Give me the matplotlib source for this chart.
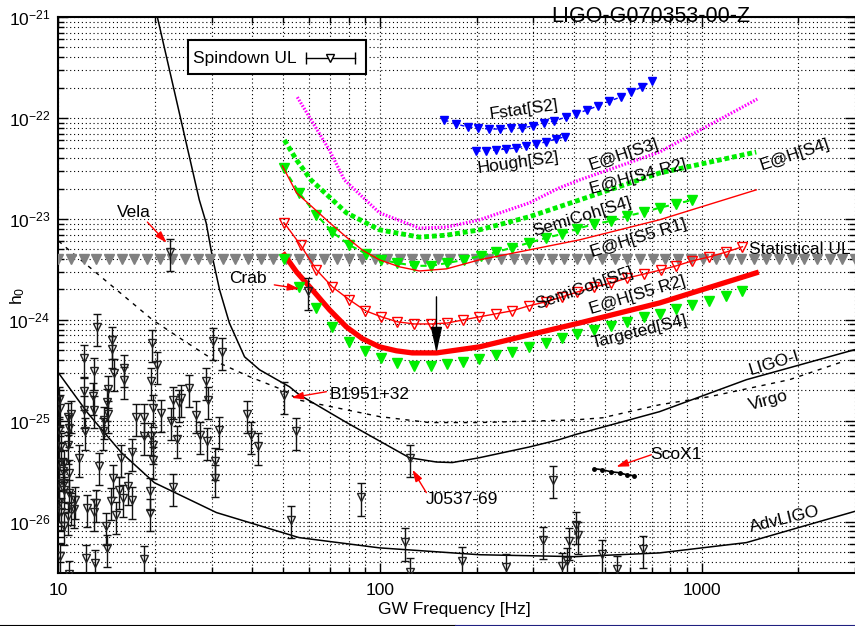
import numpy as np
import matplotlib
matplotlib.use('Agg')
import matplotlib.pyplot as plt
import matplotlib.ticker as mticker
from matplotlib.lines import Line2D
from matplotlib.patches import Rectangle

plt.rcParams['font.family'] = ['Liberation Sans', 'DejaVu Sans']
plt.rcParams['font.size'] = 12.5
plt.rcParams['mathtext.fontset'] = 'custom'
plt.rcParams['mathtext.rm'] = 'Liberation Sans'
plt.rcParams['mathtext.it'] = 'Liberation Sans:italic'
plt.rcParams['mathtext.bf'] = 'Liberation Sans:bold'

# --- detector sensitivity curves (GW frequency [Hz], h0) ---
ligo_f = [19.2, 20.3, 27.4, 28.8, 30.1, 31.7, 34.0, 37.9, 42.2, 52.3, 56.1, 78.7, 123.4,
          149.7, 167.8, 203.6, 291.6, 361, 405.6, 740, 1378, 2985]
ligo_h = [1.85e-21, 1e-21, 1.55e-23, 9.1e-24, 4.2e-24, 1.98e-24, 9.3e-25, 4.3e-25, 3.2e-25,
          2.17e-25, 1.81e-25, 9.6e-26, 4.3e-26, 3.9e-26, 3.85e-26, 4.3e-26, 5.5e-26, 6.5e-26,
          7.3e-26, 1.23e-25, 2.55e-25, 5.05e-25]

virgo_f = [10, 10.59, 19.6, 24.3, 31.0, 39.3, 49.7, 56.1, 99.5, 142, 204, 405, 492, 740,
           1058, 1875, 2741]
virgo_h = [6.05e-24, 5.16e-24, 1.0e-24, 6.34e-25, 3.84e-25, 2.73e-25, 2.03e-25, 1.6e-25,
           1.1e-25, 9.6e-26, 9.6e-26, 1.02e-25, 1.07e-25, 1.44e-25, 1.73e-25, 2.55e-25, 3.84e-25]

adv_f = [10, 12.31, 15.7, 19.88, 31, 56, 99.5, 204, 405, 740, 1378, 2985]
adv_h = [2.98e-25, 1.2e-25, 4.82e-26, 2.43e-26, 1.23e-26, 6.95e-27, 5.5e-27, 4.7e-27,
         4.5e-27, 4.9e-27, 6.2e-27, 1.26e-26]

# --- search upper limits ---
ehs3_f = [55.3, 69.6, 77.5, 99.6, 132.6, 161, 204, 291, 361, 417, 740, 1490]
ehs3_h = [1.61e-22, 4.8e-23, 2.43e-23, 1.15e-23, 8.1e-24, 8.3e-24, 9.8e-24, 1.44e-23,
          2.03e-23, 2.43e-23, 4.6e-23, 1.54e-22]

ehs4_f = [50.4, 55, 61, 78.6, 99.6, 132.6, 161, 204, 291, 417, 740, 1479]
ehs4_h = [6.05e-23, 3.84e-23, 2.43e-23, 1.15e-23, 7.8e-24, 6.6e-24, 6.9e-24, 7.8e-24,
          1.05e-23, 1.54e-23, 2.85e-23, 4.6e-23]

ehs5r1_f = [49.7, 55, 61.6, 69.6, 78.6, 88.2, 99.6, 115, 132.6, 161, 203.6, 291, 417, 740, 1479]
ehs5r1_h = [3.35e-23, 1.81e-23, 1.31e-23, 9.2e-24, 6.6e-24, 4.9e-24, 3.93e-24, 3.35e-24,
            3.05e-24, 3.2e-24, 3.93e-24, 4.93e-24, 6.2e-24, 9.8e-24, 1.94e-23]

ehs5r2_f = [50.4, 55, 61.6, 69.6, 78.6, 88.2, 99.6, 112.5, 126, 150, 204, 291, 417, 740, 1479]
ehs5r2_h = [4.4e-24, 2.98e-24, 1.98e-24, 1.26e-24, 8.5e-25, 6.5e-25, 5.4e-25, 4.93e-25,
            4.7e-25, 4.7e-25, 5.4e-25, 7.1e-25, 9.3e-25, 1.47e-24, 2.92e-24]

semis4_f = [50.1, 56.1, 63.4, 71.1, 80.3, 90.7, 101, 113.3, 127.9, 144.5, 162, 182.4, 206,
            230, 258, 291, 329, 369, 411, 464, 524, 588, 664, 740, 835, 936]
semis4_h = [3.2e-23, 1.81e-23, 1.1e-23, 7.4e-24, 5.5e-24, 4.5e-24, 3.93e-24, 3.66e-24,
            3.43e-24, 3.43e-24, 3.66e-24, 3.93e-24, 4.3e-24, 4.7e-24, 5.2e-24, 5.8e-24,
            6.5e-24, 7.1e-24, 8.0e-24, 8.9e-24, 9.55e-24, 1.07e-23, 1.17e-23, 1.29e-23,
            1.41e-23, 1.54e-23]

semis5_f = [50.4, 56.6, 63.4, 71.1, 80.3, 90.1, 101, 113.3, 127.9, 144.5, 162, 181.7, 203.7,
            230, 258, 291, 329, 369, 411, 464, 524, 588, 664, 750, 835, 936, 1057, 1194, 1340]
semis5_h = [9.1e-24, 5.5e-24, 3.13e-24, 2.12e-24, 1.58e-24, 1.23e-24, 1.07e-24, 9.55e-25,
            9.1e-25, 9.1e-25, 9.3e-25, 1.0e-24, 1.07e-24, 1.15e-24, 1.23e-24, 1.38e-24,
            1.51e-24, 1.69e-24, 1.89e-24, 2.12e-24, 2.32e-24, 2.6e-24, 2.85e-24, 3.13e-24,
            3.43e-24, 3.84e-24, 4.2e-24, 4.7e-24, 5.3e-24]

targ_f = [50.4, 56.1, 63.4, 71.1, 80.3, 90.1, 101, 113.3, 127.9, 144.5, 162, 181.7, 203.7,
          230, 258, 291, 329, 369, 411, 464, 524, 588, 664, 740, 835, 936, 1057, 1194, 1340]
targ_h = [4.0e-24, 2.12e-24, 1.31e-24, 8.5e-25, 6.05e-25, 4.93e-25, 4.2e-25, 3.75e-25,
          3.5e-25, 3.5e-25, 3.67e-25, 3.84e-25, 4.1e-25, 4.5e-25, 4.8e-25, 5.4e-25, 5.9e-25,
          6.6e-25, 7.3e-25, 8.0e-25, 8.7e-25, 9.55e-25, 1.07e-24, 1.15e-24, 1.29e-24,
          1.41e-24, 1.54e-24, 1.73e-24, 1.94e-24]

fstat_f = [158.6, 172.8, 187.6, 201.6, 218.4, 236.6, 254.6, 276, 299, 324, 348.6, 377.6,
           406.6, 440.5, 477, 516.6, 559.6, 602, 652, 701]
fstat_h = [9.55e-23, 8.7e-23, 8.15e-23, 7.96e-23, 7.78e-23, 7.78e-23, 7.96e-23, 7.96e-23,
           8.33e-23, 8.9e-23, 9.33e-23, 1.02e-22, 1.1e-22, 1.2e-22, 1.32e-22, 1.47e-22,
           1.61e-22, 1.81e-22, 2.03e-22, 2.32e-22]

hough_f = [199.4, 214, 229.6, 246.6, 264.8, 284.3, 305.3, 327.8, 352, 376]
hough_h = [4.7e-23, 4.7e-23, 4.82e-23, 4.93e-23, 5.05e-23, 5.28e-23, 5.53e-23, 5.78e-23,
           6.2e-23, 6.5e-23]

stat_ul_h = 4.0e-24

scox1_f = [464, 491, 523, 556, 588, 618]
scox1_h = [3.35e-26, 3.27e-26, 3.12e-26, 3.05e-26, 2.9e-26, 2.85e-26]

# --- known pulsars: spindown upper limits ---
spin_f = [13.16, 14.65, 14.65, 11.98, 12.94, 16.04, 15.96, 14.93, 19.53, 11.98, 12.79, 14.23,
          14.13, 12.94, 12.04, 10.14, 10.9, 13.9, 14.23, 13.73, 12.11, 10.07, 10.82, 17.44,
          18.51, 18.51, 19.42, 16.9, 15.67, 11.62, 10.74, 10.2, 10.44, 10.82, 13.41, 14.75,
          10.07, 10.39, 15.47, 16.43, 16.9, 19.32, 15.85, 14.58, 13.1, 12.28, 11.27, 11.21,
          10.07, 10.2, 10.69, 12.94, 15.11, 14.07, 10.44, 14.17, 10.14, 12.19, 13.0, 18.51,
          10.82, 19.42, 19.65, 20.22, 20.86, 22.78, 24.07, 23.66, 25.55, 28.8, 29.12, 30.34,
          32.28, 26.8, 22.4, 23.33, 27.64, 29.0, 31.5, 30.78, 30.78, 38.62, 39.74, 41.66,
          54.83, 22.66, 52.9, 19.65, 19.65, 19.19, 10.07, 10.69, 10.07, 10.31, 10.82, 10.44,
          10.95, 22.3, 59.5, 50.4, 124.3, 87.5, 120, 124.3, 180.4, 247, 346, 320.6, 386, 407,
          412, 367, 380.7, 490.6, 547, 656]
spin_h = [8.47e-25, 6.34e-25, 5.13e-25, 4.18e-25, 3.13e-25, 3.33e-25, 2.55e-25, 3.0e-25,
          5.88e-25, 1.95e-25, 1.74e-25, 2.06e-25, 1.52e-25, 1.29e-25, 1.29e-25, 1.34e-25,
          1.17e-25, 1.02e-25, 1.17e-25, 7.83e-26, 7.83e-26, 8.15e-26, 8.47e-26, 1.09e-25,
          1.09e-25, 7.0e-26, 7.0e-26, 4.85e-26, 4.27e-26, 4.27e-26, 5.78e-26, 5.57e-26,
          3.81e-26, 3.03e-26, 3.53e-26, 2.71e-26, 2.42e-26, 2.07e-26, 2.07e-26, 2.24e-26,
          1.65e-26, 2.0e-26, 1.72e-26, 1.59e-26, 1.53e-26, 1.37e-26, 1.65e-26, 1.32e-26,
          1.53e-26, 1.26e-26, 1.13e-26, 1.24e-26, 1.17e-26, 8.98e-27, 8.98e-27, 5.5e-27,
          4.53e-27, 4.37e-27, 3.9e-27, 4.27e-27, 3.05e-27, 2.45e-25, 1.34e-25, 3.58e-25,
          1.19e-25, 1.61e-25, 1.68e-25, 1.5e-25, 2.11e-25, 2.45e-25, 1.61e-25, 6.1e-25,
          4.85e-25, 1.15e-25, 9.85e-26, 6.59e-26, 7.27e-26, 6.24e-26, 8.15e-26, 3.95e-26,
          2.71e-26, 1.17e-25, 7.27e-26, 5.57e-26, 7.83e-26, 2.21e-26, 1.05e-26, 5.78e-26,
          4.11e-26, 1.23e-26, 1.61e-25, 1.1e-25, 3.81e-26, 3.15e-26, 1.92e-26, 2.42e-26,
          1.42e-26, 4.71e-24, 1.94e-24, 1.81e-25, 4.3e-26, 1.77e-26, 6.34e-27, 3.2e-27,
          4.11e-27, 3.58e-27, 2.61e-26, 6.53e-27, 6.38e-27, 9.33e-27, 7.43e-27, 3.6e-27,
          4.05e-27, 4.82e-27, 3.4e-27, 5.4e-27]
spin_err = 0.35  # fractional uncertainty on the spindown limit

GREEN = '#00ee00'
RED = '#ff0000'
BLUE = '#0000ff'
MAGENTA = '#ff00ff'
GREY = '#808080'

fig = plt.figure(figsize=(8.55, 6.26), dpi=100)
ax = fig.add_axes([0.0684, 0.0847, 0.9316, 0.888])
ax.set_xscale('log')
ax.set_yscale('log')

# detector curves
ax.plot(ligo_f, ligo_h, color='black', lw=1.1, zorder=3)
ax.plot(virgo_f, virgo_h, color='black', lw=1.0, ls=(0, (3, 4)), zorder=3)
ax.plot(adv_f, adv_h, color='black', lw=1.1, zorder=3)

# statistical upper limit row
stat_f = np.geomspace(10, 3000, 64)
ax.plot(stat_f, np.full_like(stat_f, stat_ul_h), ls='none', marker='v', ms=7,
        color=GREY, mec=GREY, zorder=4)

# Einstein@Home and semicoherent searches
ax.plot(ehs3_f, ehs3_h, color=MAGENTA, lw=2.3, ls=(0, (0.5, 0.5)), zorder=4)
ax.plot(ehs4_f, ehs4_h, color=GREEN, lw=3.5, ls=(0, (1, 0.6)), zorder=4)
ax.plot(semis4_f, semis4_h, color=GREEN, lw=1.5, ls=(0, (3, 2)), marker='v', ms=6.5,
        mfc=GREEN, mec=GREEN, zorder=5)
ax.plot(ehs5r1_f, ehs5r1_h, color=RED, lw=1.0, zorder=5)
ax.plot(semis5_f, semis5_h, color=RED, lw=1.0, marker='v', ms=6.5, mfc='none', mec=RED,
        mew=1.0, zorder=5)
ax.plot(ehs5r2_f, ehs5r2_h, color=RED, lw=3.8, zorder=5)
ax.plot(targ_f, targ_h, ls='none', marker='v', ms=6.5, color=GREEN, zorder=5)

# S2 all-sky searches
ax.plot(fstat_f, fstat_h, color=BLUE, lw=1.0, ls=(0, (3, 3)), marker='v', ms=6, zorder=5)
ax.plot(hough_f, hough_h, color=BLUE, lw=1.0, ls=(0, (3, 3)), marker='v', ms=6, zorder=5)

# ScoX1
ax.plot(scox1_f, scox1_h, color='black', lw=1.2, marker='o', ms=2.5, zorder=5)

# spindown limits
spin_f = np.array(spin_f)
spin_h = np.array(spin_h)
ax.errorbar(spin_f, spin_h, yerr=spin_err * spin_h, fmt='v', ms=5.5, mfc='none', mec='#222222',
            mew=1.0, ecolor='#111111', elinewidth=1.0, capsize=3, capthick=1.0, zorder=6)

# arrow marking the best upper limit
ax.annotate('', xy=(149.8, 4.7e-25), xytext=(149.8, 1.69e-24),
            arrowprops=dict(arrowstyle='-|>,head_length=1.6,head_width=0.35', color='black',
                            lw=1.0, mutation_scale=10, shrinkA=0, shrinkB=0), zorder=7)

# pulsar and source labels with red pointers
red_arrow = dict(arrowstyle='-|>,head_length=0.7,head_width=0.22', color=RED, lw=1.0,
                 mutation_scale=10, shrinkA=0, shrinkB=0)
ax.annotate('', xy=(21.7, 5.8e-24), xytext=(18.9, 9.3e-24), arrowprops=red_arrow, zorder=7)
ax.annotate('', xy=(56.1, 2.03e-24), xytext=(46.9, 2.22e-24), arrowprops=red_arrow, zorder=7)
ax.annotate('', xy=(53, 1.69e-25), xytext=(68.1, 1.94e-25), arrowprops=red_arrow, zorder=7)
ax.annotate('', xy=(126.1, 3.27e-26), xytext=(139.3, 1.94e-26), arrowprops=red_arrow, zorder=7)
ax.annotate('', xy=(543, 3.5e-26), xytext=(698, 4.6e-26), arrowprops=red_arrow, zorder=7)

ax.text(17.2, 1.17e-23, 'Vela', ha='center', va='center', zorder=8)
ax.text(38.7, 2.55e-24, 'Crab', ha='center', va='center', zorder=8)
ax.text(92.7, 1.81e-25, 'B1951+32', ha='center', va='center', zorder=8)
ax.text(180, 1.65e-26, 'J0537-69', ha='center', va='center', zorder=8)
ax.text(835, 4.6e-26, 'ScoX1', ha='center', va='center', zorder=8)

# curve labels
curve_labels = [
    ('Fstat[S2]', 281, 1.2e-22, 8),
    ('Hough[S2]', 269, 3.58e-23, 8),
    ('E@H[S3]', 575, 4.3e-23, 18),
    ('E@H[S4 R2]', 636, 2.6e-23, 15),
    ('E@H[S4]', 1944, 4.3e-23, 18),
    ('SemiCoh[S4]', 426, 1.05e-23, 17),
    ('E@H[S5 R1]', 636, 6.5e-24, 17),
    ('SemiCoh[S5]', 432, 2.07e-24, 19),
    ('E@H[S5 R2]', 631, 1.77e-24, 17),
    ('Targeted[S4]', 641, 7.6e-25, 14),
    ('LIGO-I', 1683, 3.75e-25, 17),
    ('Virgo', 1614, 1.58e-25, 15),
    ('AdvLIGO', 1808, 1.05e-26, 13.5),
]
for txt, f, h, ang in curve_labels:
    ax.text(f, h, txt, rotation=ang, rotation_mode='anchor', ha='center', va='center', zorder=8)
ax.text(1409, 4.93e-24, 'Statistical UL', ha='left', va='center', zorder=8)

# key box drawn by hand, gnuplot style
ax.add_patch(Rectangle((0.1626, 0.8975), 0.2234, 0.0611, transform=ax.transAxes,
                       facecolor='white', edgecolor='black', lw=1.5, zorder=9))
ax.text(0.1689, 0.926, 'Spindown UL', transform=ax.transAxes, va='center', zorder=10)
ax.plot([0.3107, 0.3723], [0.926, 0.926], color='black', lw=1.0, marker='|', ms=8, mew=1.0,
        transform=ax.transAxes, zorder=10)
ax.plot([0.341], [0.926], ls='none', marker='v', ms=5.5, mfc='white', mec='black', mew=1.0,
        transform=ax.transAxes, zorder=11)

ax.set_xlim(10, 3000)
ax.set_ylim(3.1e-27, 1e-21)

ax.xaxis.set_major_locator(mticker.FixedLocator([10, 100, 1000]))
ax.xaxis.set_major_formatter(mticker.FuncFormatter(lambda v, _: '%g' % v))
ax.xaxis.set_minor_formatter(mticker.NullFormatter())
ax.yaxis.set_major_locator(mticker.FixedLocator([1e-26, 1e-25, 1e-24, 1e-23, 1e-22, 1e-21]))
ax.yaxis.set_major_formatter(mticker.LogFormatterSciNotation())
ax.yaxis.set_minor_formatter(mticker.NullFormatter())
ax.yaxis.set_minor_locator(mticker.LogLocator(base=10, subs=np.arange(2, 10), numticks=50))
ax.xaxis.set_minor_locator(mticker.LogLocator(base=10, subs=np.arange(2, 10), numticks=50))

ax.set_axisbelow(True)
ax.grid(True, which='both', color='black', ls=(0, (1, 2.5)), lw=0.8)
ax.tick_params(which='both', direction='in', top=True, right=True, width=1.0)
ax.tick_params(which='major', length=7)
ax.tick_params(which='minor', length=4)
ax.tick_params(axis='y', pad=6)
ax.tick_params(axis='x', pad=7)
for side in ['left', 'bottom', 'top']:
    ax.spines[side].set_linewidth(1.5)
ax.spines['right'].set_visible(False)

fig.text(0.021, 0.528, r'h$_\mathregular{0}$', rotation=90, ha='center', va='center')
fig.text(0.532, 0.026, 'GW Frequency [Hz]', ha='center', va='center')
fig.text(0.761, 0.9649, 'LIGO-G070353-00-Z', ha='center', va='baseline', fontsize=15.5)

fig.add_artist(Line2D([0, 455 / 855], [0.0008, 0.0008], color='black', lw=0.8))
fig.add_artist(Line2D([455 / 855, 1], [0.0008, 0.0008], color='#202080', lw=0.8))

fig.savefig('out.png', dpi=100)
